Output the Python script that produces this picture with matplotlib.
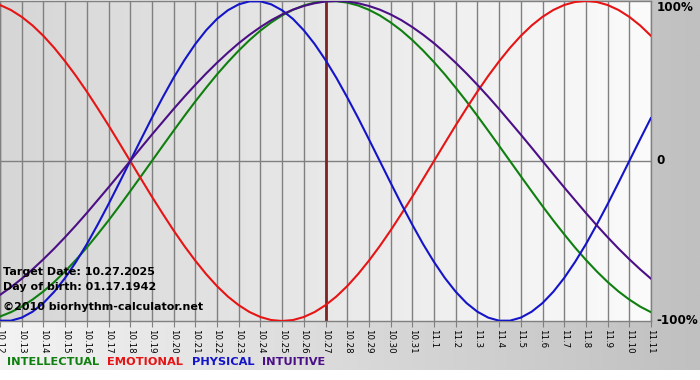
"""Biorhythm chart: four cycles around the target date."""

import matplotlib

matplotlib.use("Agg")

import matplotlib.pyplot as plt
import matplotlib.transforms as mtransforms
import numpy as np

# tick labels, one per day (10.12 .. 11.11)
day_labels = [
    "10.12", "10.13", "10.14", "10.15", "10.16", "10.17", "10.18", "10.19",
    "10.20", "10.21", "10.22", "10.23", "10.24", "10.25", "10.26", "10.27",
    "10.28", "10.29", "10.30", "10.31", "11.1", "11.2", "11.3", "11.4",
    "11.5", "11.6", "11.7", "11.8", "11.9", "11.10", "11.11",
]
target_label = "10.27"

# values read every half day, -1 .. 1
intellectual = [
    -0.972, -0.945, -0.910, -0.866, -0.815, -0.756, -0.690, -0.618, -0.541, -0.458,
    -0.372, -0.282, -0.189, -0.095, 0.000, 0.095, 0.189, 0.282, 0.372, 0.458,
    0.541, 0.618, 0.690, 0.756, 0.815, 0.866, 0.910, 0.945, 0.972, 0.990,
    0.999, 0.999, 0.990, 0.972, 0.945, 0.910, 0.866, 0.815, 0.756, 0.690,
    0.618, 0.541, 0.458, 0.372, 0.282, 0.189, 0.095, 0.000, -0.095, -0.189,
    -0.282, -0.372, -0.458, -0.541, -0.618, -0.690, -0.756, -0.815, -0.866, -0.910,
    -0.945,
]
emotional = [
    0.975, 0.944, 0.901, 0.847, 0.782, 0.707, 0.623, 0.532, 0.434, 0.330,
    0.223, 0.112, 0.000, -0.112, -0.223, -0.330, -0.434, -0.532, -0.623, -0.707,
    -0.782, -0.847, -0.901, -0.944, -0.975, -0.994, -1.000, -0.994, -0.975, -0.944,
    -0.901, -0.847, -0.782, -0.707, -0.623, -0.532, -0.434, -0.330, -0.223, -0.112,
    0.000, 0.112, 0.223, 0.330, 0.434, 0.532, 0.623, 0.707, 0.782, 0.847,
    0.901, 0.944, 0.975, 0.994, 1.000, 0.994, 0.975, 0.944, 0.901, 0.847,
    0.782,
]
physical = [
    -0.998, -0.998, -0.979, -0.942, -0.888, -0.817, -0.731, -0.631, -0.520, -0.398,
    -0.270, -0.136, 0.000, 0.136, 0.270, 0.398, 0.520, 0.631, 0.731, 0.817,
    0.888, 0.942, 0.979, 0.998, 0.998, 0.979, 0.942, 0.888, 0.817, 0.731,
    0.631, 0.520, 0.398, 0.270, 0.136, 0.000, -0.136, -0.270, -0.398, -0.520,
    -0.631, -0.731, -0.817, -0.888, -0.942, -0.979, -0.998, -0.998, -0.979, -0.942,
    -0.888, -0.817, -0.731, -0.631, -0.520, -0.398, -0.270, -0.136, 0.000, 0.136,
    0.270,
]
intuitive = [
    -0.837, -0.789, -0.736, -0.677, -0.614, -0.547, -0.476, -0.402, -0.325, -0.245,
    -0.165, -0.083, 0.000, 0.083, 0.165, 0.245, 0.325, 0.402, 0.476, 0.547,
    0.614, 0.677, 0.736, 0.789, 0.837, 0.880, 0.916, 0.946, 0.969, 0.986,
    0.997, 1.000, 0.997, 0.986, 0.969, 0.946, 0.916, 0.880, 0.837, 0.789,
    0.736, 0.677, 0.614, 0.547, 0.476, 0.402, 0.325, 0.245, 0.165, 0.083,
    0.000, -0.083, -0.165, -0.245, -0.325, -0.402, -0.476, -0.547, -0.614, -0.677,
    -0.736,
]

series = [
    ("INTELLECTUAL", intellectual, "#0f7f0f"),
    ("EMOTIONAL", emotional, "#e61414"),
    ("PHYSICAL", physical, "#1414c8"),
    ("INTUITIVE", intuitive, "#4b0f86"),
]

info_lines = [
    "Target Date: 10.27.2025",
    "Day of birth: 01.17.1942",
    "©2010 biorhythm-calculator.net",
]

W, H = 700, 380
fig = plt.figure(figsize=(W / 100, H / 100), dpi=100)
fig.patch.set_facecolor("white")

# figure background: horizontal gradient, white strip at the very bottom
bg = fig.add_axes([0, 10 / H, 1, 1 - 10 / H], zorder=-10)
grad = np.linspace(0, 1, 256).reshape(1, -1)
bg.imshow(grad, cmap=matplotlib.colors.LinearSegmentedColormap.from_list(
    "bg", ["#f3f3f3", "#c0c0c0"]), aspect="auto", extent=[0, 1, 0, 1])
bg.set_axis_off()

ax = fig.add_axes([0, 59 / H, 651 / W, 320 / H])
ax.imshow(grad, cmap=matplotlib.colors.LinearSegmentedColormap.from_list(
    "plot", ["#d6d6d6", "#fbfbfb"]), aspect="auto", extent=[0, 1, 0, 1],
    transform=ax.transAxes, zorder=0)

days = np.arange(len(day_labels))
for i in days:
    ax.axvline(i, color="#808080", lw=1, zorder=1)
ax.axhline(0, color="#808080", lw=1, zorder=1)
ax.axvline(day_labels.index(target_label), color="#7d2323", lw=2, zorder=2)

for name, vals, color in series:
    t = np.arange(len(vals)) * (len(day_labels) - 1) / (len(vals) - 1)
    ax.plot(t, vals, color=color, lw=1.5, zorder=3, solid_capstyle="round")

ax.set_xlim(0, len(day_labels) - 1)
ax.set_ylim(-1, 1)
ax.set_xticks(days)
ax.set_xticklabels(day_labels, rotation=-90, fontsize=6.2)
ax.tick_params(axis="x", length=4, color="#808080", pad=2)
ax.set_yticks([])
for sp in ax.spines.values():
    sp.set_color("#808080")
    sp.set_linewidth(1)

yt = mtransforms.blended_transform_factory(ax.transAxes, ax.transData)
ax.text(1.008, 1, "100%", transform=yt, va="top", ha="left",
        fontsize=8.6, fontweight="bold", clip_on=False)
ax.text(1.008, 0, "0", transform=yt, va="center", ha="left",
        fontsize=8.6, fontweight="bold", clip_on=False)
ax.text(1.008, -1, "-100%", transform=yt, va="center", ha="left",
        fontsize=8.6, fontweight="bold", clip_on=False)

for txt, ypx in zip(info_lines, [272, 287, 307]):
    fig.text(3 / W, 1 - ypx / H, txt, va="center", ha="left",
             fontsize=8, fontweight="bold", zorder=5)

xpos = [7, 107, 192, 262]
for (name, vals, color), xp in zip(series, xpos):
    fig.text(xp / W, 1 - 362 / H, name, color=color, va="center",
             ha="left", fontsize=8.2, fontweight="bold")

fig.savefig("out.png", dpi=100)
plt.close(fig)
